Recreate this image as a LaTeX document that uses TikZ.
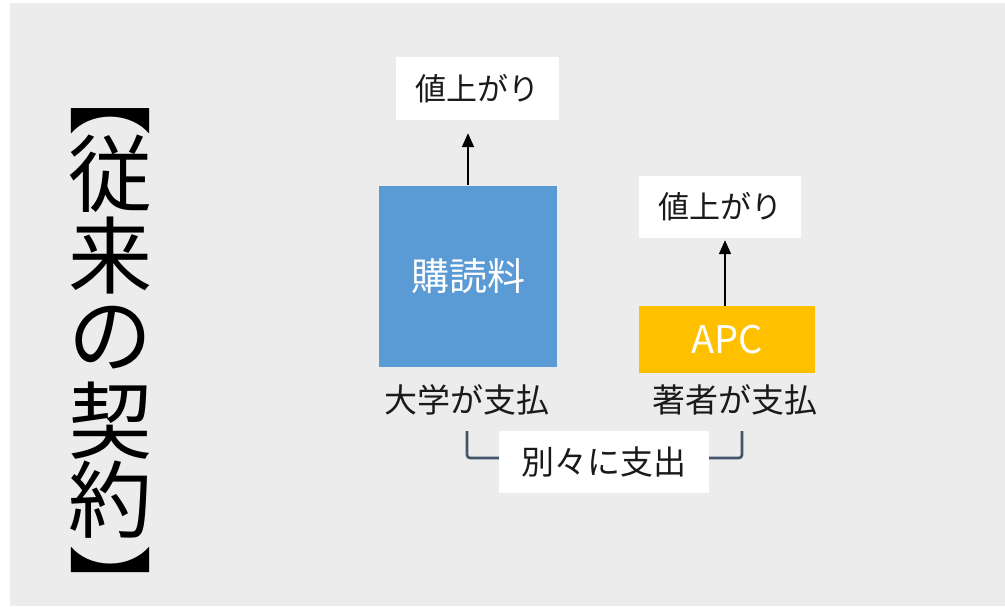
\documentclass[tikz,border=0pt]{standalone}
\usepackage{fontspec}
\newfontfamily\cjk{Noto Sans CJK JP}
\usetikzlibrary{arrows.meta}
\definecolor{bggray}{HTML}{ECECEC}
\definecolor{boxblue}{HTML}{5B9BD5}
\definecolor{boxgold}{HTML}{FFC000}
\definecolor{slate}{HTML}{44546A}
\definecolor{txt}{HTML}{1A1A1A}
\tikzset{
  whitebox/.style={fill=white, inner sep=0pt, text=txt},
  lbl/.style={inner sep=0pt, text=txt, font=\cjk\fontsize{33}{38}\selectfont},
  ttl/.style={inner sep=0pt, text=black, font=\cjk\fontsize{84}{90}\selectfont},
  arr/.style={draw=black, line width=1.8pt, -{Triangle[length=14pt,width=12pt]}},
  brk/.style={draw=slate, line width=2.6pt, rounded corners=3pt},
}
\begin{document}
\begin{tikzpicture}[x=1pt,y=-1pt]
\useasboundingbox (0,0) rectangle (1005,606);
\fill[bggray] (10,3) rectangle (1005,606);
% title
\node[ttl] (tb1) at (110,121) {︻};
\node[ttl] (t1) at (110,174) {従};
\node[ttl] (t2) at (110,256) {来};
\node[ttl] (t3) at (110,338) {の};
\node[ttl] (t4) at (110,421) {契};
\node[ttl] (t5) at (110,500) {約};
\node[ttl] (tb2) at (110,558.5) {\raisebox{-50pt}[20pt][0pt]{︼}};
% boxes
\node[fill=boxblue, minimum width=178pt, minimum height=181pt, inner sep=0pt,
      text=white, font=\cjk\fontsize{38}{44}\selectfont] (sub) at (468,276) {購読料};
\node[fill=boxgold, minimum width=176pt, minimum height=67pt, inner sep=0pt,
      text=white, font=\cjk\fontsize{38}{44}\selectfont] (apc) at (727,339.5) {APC};
\node[whitebox, minimum width=163pt, minimum height=63pt,
      font=\cjk\fontsize{31}{36}\selectfont] (up1) at (477.5,88.5) {値上がり};
\node[whitebox, minimum width=162pt, minimum height=62pt,
      font=\cjk\fontsize{31}{36}\selectfont] (up2) at (720,207) {値上がり};
\node[lbl] (pay1) at (467,400) {大学が支払};
\node[lbl] (pay2) at (735,400) {著者が支払};
\node[whitebox, minimum width=210pt, minimum height=62pt,
      font=\cjk\fontsize{33}{38}\selectfont] (sep) at (604,462) {別々に支出};
% arrows
\draw[arr, shorten >=13pt] (sub.north) -- (sub.north |- up1.south);
\draw[arr, shorten >=2pt] ([xshift=-2pt]apc.north) -- ([xshift=-2pt]apc.north |- up2.south);
% brackets
\coordinate (bl) at (467,431);
\coordinate (br) at (742,431);
\draw[brk] (bl) |- ([yshift=4pt]sep.west);
\draw[brk] (br) |- ([yshift=4pt]sep.east);
\end{tikzpicture}
\end{document}
